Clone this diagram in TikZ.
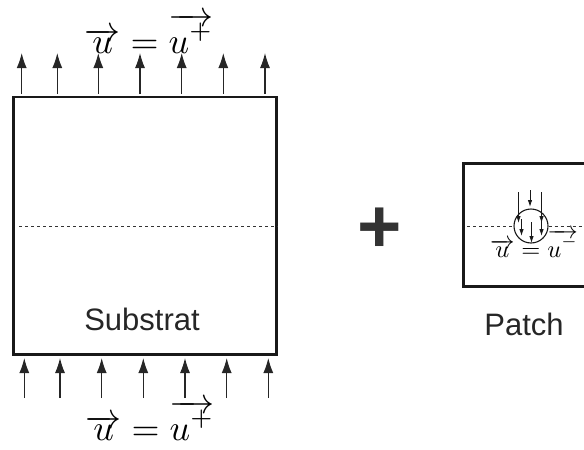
\documentclass[tikz,border=0pt]{standalone}
\usepackage{fontspec}
\setsansfont{Liberation Sans}
\usetikzlibrary{arrows.meta}
\tikzset{
  frame/.style={draw=black!90, line width=2.8pt, inner sep=0pt},
  bigarrow/.style={draw=black!85, line width=1.1pt, -{Latex[length=15pt,width=10pt]}},
  smallarrow/.style={draw=black!90, line width=0.9pt, -{Latex[length=7pt,width=4.5pt]}},
  midline/.style={draw=black!80, line width=1pt, dash pattern=on 3pt off 3pt},
  mathlabel/.style={anchor=base, inner sep=0pt, scale=3.6},
  caption/.style={anchor=base, inner sep=0pt, text=black!85, font=\sffamily\fontsize{31}{36}\selectfont},
}
\begin{document}
\begin{tikzpicture}[x=1pt,y=-1pt]
\useasboundingbox (0,0) rectangle (584,450);
\clip (0,0) rectangle (584,450);
% substrate box
\node[frame, minimum width=263pt, minimum height=257.5pt] (sub) at (145,225.75) {};
\draw[midline] (19,226) -- (sub.east |- 0,226);
% top arrows
\foreach \i/\x in {1/21.7,2/57.3,3/98.3,4/140,5/181.7,6/223.3,7/265}{
  \coordinate (t\i a) at (\x,94);
  \coordinate (t\i b) at (\x,53);
  \draw[bigarrow] (t\i a) -- (t\i b);
}
% bottom arrows
\foreach \i/\x in {1/24.3,2/60,3/101.7,4/143.3,5/185,6/226.7,7/268.3}{
  \coordinate (b\i a) at (\x,398);
  \coordinate (b\i b) at (\x,358);
  \draw[bigarrow] (b\i a) -- (b\i b);
}
\node[mathlabel] (toplab) at (149,53) {$\overrightarrow{u}=\overrightarrow{u^{+}}$};
\node[mathlabel] (botlab) at (150,440) {$\overrightarrow{u}=\overrightarrow{u^{+}}$};
\node[caption] (subtxt) at (142,330) {Substrat};
% plus
\node[anchor=base, inner sep=0pt, text=black!80, font=\sffamily\bfseries\fontsize{76}{80}\selectfont] (plus) at (380,252) {+};
% patch
\draw[draw=black!90, line width=2.5pt] (620,163.5) -- (463.5,163.5) -- (463.5,286.5) -- (620,286.5);
\node[draw=black!90, line width=1.1pt, circle, minimum size=34pt, inner sep=0pt] (circ) at (531,226) {};
\draw[midline] (467,226) -- (circ.west);
\draw[midline] (circ.east) -- (590,226);
\foreach \n/\x/\ya/\yb in {o1/518.5/192/223, o2/530/190/207, o3/541.5/192/223, i1/521.5/219/236, i2/531.5/222/243, i3/541.5/219/236}{
  \coordinate (\n a) at (\x,\ya);
  \coordinate (\n b) at (\x,\yb);
  \draw[smallarrow] (\n a) -- (\n b);
}
\node[mathlabel, scale=0.68] (patchlab) at (534,257) {$\overrightarrow{u}=\overrightarrow{u^{-}}$};
\node[caption] (patchtxt) at (524,335) {Patch};
\end{tikzpicture}
\end{document}
